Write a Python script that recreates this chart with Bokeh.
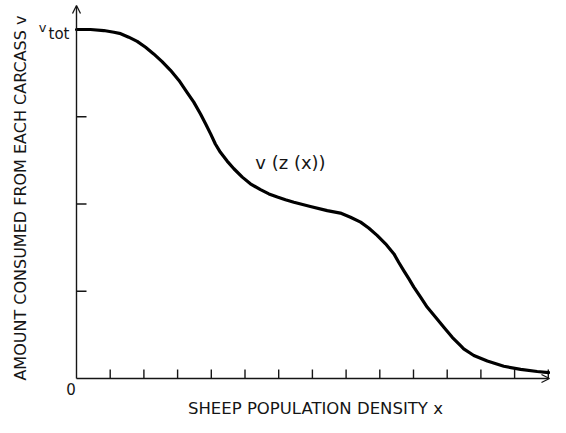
import math
from bokeh.plotting import figure
from bokeh.models import Label, Arrow, OpenHead, Range1d
from bokeh.embed import file_html
from bokeh.resources import INLINE

# Curve v(z(x)): x in tick units, v as a fraction of v_tot
curve_x = [0.0, 0.415, 0.81, 1.11, 1.31, 1.55, 1.80, 2.05, 2.29, 2.54, 2.79, 3.04,
           3.28, 3.48, 3.68, 3.83, 3.98, 4.12, 4.27, 4.47, 4.67, 4.92, 5.16, 5.46,
           5.71, 5.96, 6.20, 6.45, 6.94, 7.44, 7.83, 8.13, 8.43, 8.67, 8.92, 9.17,
           9.42, 9.56, 9.71, 9.86, 10.01, 10.21, 10.41, 10.65, 10.90, 11.15, 11.39,
           11.49, 11.79, 12.19, 12.68, 13.18, 13.67, 14.01]
curve_v = [1.0, 1.0, 0.997, 0.992, 0.988, 0.978, 0.966, 0.949, 0.930, 0.908, 0.883, 0.854,
           0.820, 0.792, 0.758, 0.730, 0.701, 0.672, 0.648, 0.623, 0.601, 0.577, 0.558, 0.541,
           0.529, 0.520, 0.512, 0.505, 0.493, 0.481, 0.474, 0.462, 0.448, 0.431, 0.410, 0.386,
           0.357, 0.333, 0.309, 0.286, 0.262, 0.233, 0.204, 0.176, 0.147, 0.118, 0.095,
           0.085, 0.066, 0.050, 0.035, 0.026, 0.020, 0.017]

x_ticks = list(range(1, 15))
y_ticks = [0.25, 0.5, 0.75, 1.0]

x_title = "SHEEP POPULATION DENSITY x"
y_title = "AMOUNT CONSUMED FROM EACH CARCASS v"
curve_label = "v (z (x))"
origin_label = "0"
vtot_main = "v"
vtot_sub = "tot"

W, H = 550, 417
# scale: origin at pixel (76, 378); 33.7 px per x unit, 349 px per v_tot
PX_X, PX_V = 33.7, 349.0
X0_PX, Y0_PX = 76.0, 378.0
x_start = -X0_PX / PX_X
x_end = (W - X0_PX) / PX_X
y_end = Y0_PX / PX_V
y_start = -(H - Y0_PX) / PX_V
X_TIP = x_end - 0.03
Y_TIP = (Y0_PX - 5) / PX_V
XT_LEN = 9 / PX_V
YT_LEN = 10 / PX_X

FONT = "DejaVu Sans"
INK = "#151515"

p = figure(width=W, height=H, output_backend="svg", toolbar_location=None,
           x_range=Range1d(x_start, x_end), y_range=Range1d(y_start, y_end),
           x_axis_type=None, y_axis_type=None,
           min_border=0, min_border_left=0, min_border_right=0,
           min_border_top=0, min_border_bottom=0)
p.outline_line_color = None
p.background_fill_color = "white"
p.border_fill_color = "white"

# axes with arrow heads
p.add_layout(Arrow(end=OpenHead(size=8, line_width=1.3, line_color=INK),
                   x_start=0, y_start=0, x_end=X_TIP, y_end=0,
                   line_width=1.4, line_color=INK))
p.add_layout(Arrow(end=OpenHead(size=8, line_width=1.3, line_color=INK),
                   x_start=0, y_start=0, x_end=0, y_end=Y_TIP,
                   line_width=1.4, line_color=INK))

# tick marks pointing into the plot
p.segment(x0=x_ticks, y0=[0] * len(x_ticks), x1=x_ticks, y1=[XT_LEN] * len(x_ticks),
          line_width=1.4, line_color=INK)
p.segment(x0=[0] * len(y_ticks), y0=y_ticks, x1=[YT_LEN] * len(y_ticks), y1=y_ticks,
          line_width=1.4, line_color=INK)

p.line(curve_x, curve_v, line_width=3.2, line_color="black", line_join="round", line_cap="round")

def lab(text, x, y, size, align="center", baseline="middle", angle=0.0):
    p.add_layout(Label(x=x, y=y, text=text, text_font=FONT, text_font_size=size,
                       text_color=INK, text_align=align, text_baseline=baseline,
                       angle=angle))

lab(x_title, 7.09, -0.086, "16.5px")
lab(y_title, -1.66, 0.517, "16px", angle=math.pi / 2)
lab(curve_label, 6.35, 0.619, "18px")
lab(origin_label, -0.163, -0.030, "15px")
lab(vtot_main, -0.89, 1.006, "13px", align="right", baseline="alphabetic")
lab(vtot_sub, -0.83, 0.9885, "15px", align="left", baseline="alphabetic")

open("out.html", "w").write(file_html(p, INLINE))
